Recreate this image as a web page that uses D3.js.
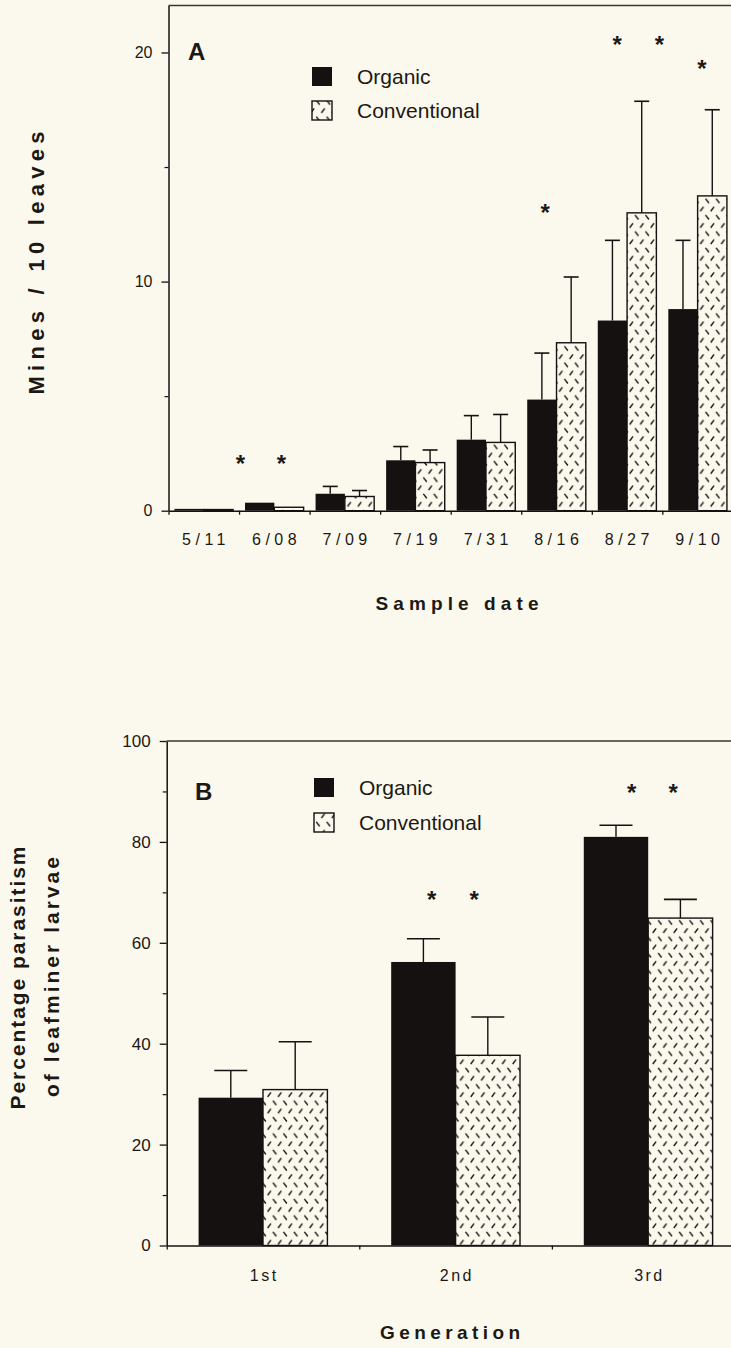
<!DOCTYPE html>
<html>
<head>
<meta charset="utf-8">
<script src="https://cdn.jsdelivr.net/npm/d3@7"></script>
<style>
  html, body { margin: 0; padding: 0; background: #fbf9ee; }
  svg { display: block; }
  text { font-family: "Liberation Sans", Arial, Helvetica, sans-serif; fill: #1b1815; }
</style>
</head>
<body>
<svg id="chart" width="731" height="1348"></svg>
<script>
// ---------- Data: Panel A (mines per 10 leaves) ----------
const datesA = ["5/11", "6/08", "7/09", "7/19", "7/31", "8/16", "8/27", "9/10"];
const organicA = [0.08, 0.35, 0.74, 2.2, 3.1, 4.85, 8.3, 8.8];
const organicErrA = [0, 0, 0.32, 0.6, 1.05, 2.03, 3.5, 3.0];
const conventionalA = [0.05, 0.15, 0.62, 2.1, 2.98, 7.33, 13.0, 13.74];
const conventionalErrA = [0, 0, 0.26, 0.55, 1.22, 2.87, 4.87, 3.76];
const yTicksA = [0, 10, 20];
const yMinorA = [5, 15];
// significance asterisks: position in category-index units, height in data units
const starPosA = [0.52, 1.10, 4.84, 5.86, 6.46, 7.06];
const starYA = [2.26, 2.26, 13.2, 20.56, 20.56, 19.5];

// ---------- Data: Panel B (% parasitism) ----------
const generationsB = ["1st", "2nd", "3rd"];
const organicB = [29.3, 56.2, 81.0];
const organicErrB = [5.4, 4.6, 2.3];
const conventionalB = [30.9, 37.7, 64.9];
const conventionalErrB = [9.5, 7.6, 3.7];
const yTicksB = [0, 20, 40, 60, 80, 100];
const yMinorB = [10, 30, 50, 70, 90];
const starPosB = [0.876, 1.097, 1.914, 2.13];
const starYB = [69.5, 69.5, 90.7, 90.7];

const seriesNames = ["Organic", "Conventional"];

const INK = "#141110";
const BG = "#fbf9ee";

const svg = d3.select("#chart");
svg.append("rect").attr("width", 731).attr("height", 1348).attr("fill", BG);

// hatch pattern for conventional bars
const defs = svg.append("defs");
const pat = defs.append("pattern")
  .attr("id", "hatch").attr("patternUnits", "userSpaceOnUse")
  .attr("width", 10.5).attr("height", 16.4);
pat.append("rect").attr("width", 10.5).attr("height", 16.4).attr("fill", BG);
pat.append("path").attr("d", "M1.2,1.8 L4.6,6.3").attr("stroke", INK).attr("stroke-width", 1.4);
pat.append("path").attr("d", "M6.4,14.5 L9.7,10.0").attr("stroke", INK).attr("stroke-width", 1.4);

function panel(opts) {
  const g = svg.append("g");
  const n = opts.cats.length;
  const x = d3.scaleBand().domain(opts.cats).range([opts.x0, opts.x1]).padding(0);
  const xi = d3.scaleLinear().domain([0, n]).range([opts.x0, opts.x1]);
  const xs = d3.scaleBand().domain(seriesNames).range([0, x.bandwidth()])
    .paddingInner(0).paddingOuter(opts.subPad);
  const y = d3.scaleLinear().domain([0, opts.yMax]).range([opts.yBottom, opts.yTop]);

  // top frame line
  g.append("line")
    .attr("x1", opts.x0).attr("x2", opts.x1)
    .attr("y1", y(opts.yMax)).attr("y2", y(opts.yMax))
    .attr("stroke", "#3a3632").attr("stroke-width", 1.3);

  // bars
  const rows = opts.cats.map((c, i) => ({
    cat: c,
    vals: [
      { s: "Organic", v: opts.org[i], e: opts.orgErr[i] },
      { s: "Conventional", v: opts.con[i], e: opts.conErr[i] }
    ]
  }));
  const grp = g.selectAll("g.cat").data(rows).join("g")
    .attr("transform", d => `translate(${x(d.cat)},0)`);
  grp.selectAll("g.err").data(d => d.vals.filter(v => v.e > 0)).join("g").each(function (d) {
    const cx = xs(d.s) + xs.bandwidth() / 2;
    const sel = d3.select(this);
    sel.append("line").attr("x1", cx).attr("x2", cx)
      .attr("y1", y(d.v)).attr("y2", y(d.v + d.e))
      .attr("stroke", INK).attr("stroke-width", 1.4);
    sel.append("line").attr("x1", cx - opts.cap / 2).attr("x2", cx + opts.cap / 2)
      .attr("y1", y(d.v + d.e)).attr("y2", y(d.v + d.e))
      .attr("stroke", INK).attr("stroke-width", 1.6);
  });
  grp.selectAll("rect.bar").data(d => d.vals).join("rect")
    .attr("x", d => xs(d.s))
    .attr("width", xs.bandwidth())
    .attr("y", d => y(d.v))
    .attr("height", d => y(0) - y(d.v))
    .attr("fill", d => d.s === "Organic" ? INK : "url(#hatch)")
    .attr("stroke", d => d.s === "Organic" ? "none" : INK)
    .attr("stroke-width", 1.4);

  // y axis
  const ya = g.append("g").attr("transform", `translate(${opts.x0},0)`)
    .call(d3.axisLeft(y).tickValues(opts.yTicks).tickSize(7).tickPadding(9).tickSizeOuter(0));
  ya.select(".domain").attr("stroke", INK).attr("stroke-width", 1.5);
  ya.selectAll(".tick line").attr("stroke", INK).attr("stroke-width", 1.3);
  ya.selectAll(".tick text").attr("font-size", opts.tickFont).attr("fill", "#1b1815")
    .attr("font-family", '"Liberation Sans", Arial, sans-serif');
  const ym = g.append("g").attr("transform", `translate(${opts.x0},0)`)
    .call(d3.axisLeft(y).tickValues(opts.yMinor).tickSize(4).tickFormat("").tickSizeOuter(0));
  ym.select(".domain").remove();
  ym.selectAll(".tick line").attr("stroke", INK).attr("stroke-width", 1.2);

  // x axis: boundary ticks
  const xa = g.append("g").attr("transform", `translate(0,${opts.yBottom})`)
    .call(d3.axisBottom(xi).tickValues(d3.range(0, n + 1)).tickSize(4).tickFormat("").tickSizeOuter(0));
  xa.select(".domain").attr("stroke", INK).attr("stroke-width", 1.6);
  xa.selectAll(".tick line").attr("stroke", INK).attr("stroke-width", 1.3);
  // x labels at band centres
  const xl = g.append("g").attr("transform", `translate(0,${opts.yBottom})`)
    .call(d3.axisBottom(x).tickSize(0).tickPadding(opts.xLabelPad));
  xl.select(".domain").remove();
  xl.selectAll(".tick text").attr("font-size", opts.xFont)
    .attr("font-family", '"Liberation Sans", Arial, sans-serif')
    .attr("fill", "#1b1815")
    .style("letter-spacing", opts.xLetter + "px")
    .attr("dx", (opts.xLetter / 2) + "px");

  // asterisks
  g.selectAll("text.star").data(opts.starPos.map((p, i) => ({ p, yv: opts.starY[i] })))
    .join("text").attr("class", "star")
    .attr("x", d => xi(d.p + 0.5))
    .attr("y", d => y(d.yv) + 13)
    .attr("text-anchor", "middle")
    .attr("font-size", 24)
    .attr("font-weight", "bold")
    .text("*");

  // panel letter
  g.append("text").attr("x", opts.letterX).attr("y", opts.letterY)
    .attr("font-size", 24).attr("font-weight", "bold").text(opts.letter);

  // legend
  const lg = g.append("g");
  seriesNames.forEach((s, i) => {
    const yy = opts.legY + i * opts.legStep;
    lg.append("rect").attr("x", opts.legX).attr("y", yy - 17).attr("width", 20).attr("height", 19)
      .attr("fill", s === "Organic" ? INK : "url(#hatch)")
      .attr("stroke", INK).attr("stroke-width", s === "Organic" ? 0 : 1.4);
    lg.append("text").attr("x", opts.legX + 45).attr("y", yy)
      .attr("font-size", 21).text(s);
  });
  return { x, y };
}

panel({
  cats: datesA, org: organicA, orgErr: organicErrA, con: conventionalA, conErr: conventionalErrA,
  x0: 168.5, x1: 732.9, yBottom: 510.7, yTop: 5.5, yMax: 22.05,
  yTicks: yTicksA, yMinor: yMinorA, subPad: 0.204, cap: 15,
  tickFont: 16, xFont: 16, xLetter: 4.5, xLabelPad: 23,
  starPos: starPosA, starY: starYA,
  letter: "A", letterX: 188, letterY: 60,
  legX: 312, legY: 84, legStep: 34
});

panel({
  cats: generationsB, org: organicB, orgErr: organicErrB, con: conventionalB, conErr: conventionalErrB,
  x0: 166.7, x1: 744.5, yBottom: 1245.5, yTop: 741, yMax: 100,
  yTicks: yTicksB, yMinor: yMinorB, subPad: 0.495, cap: 33,
  tickFont: 17, xFont: 16, xLetter: 2.5, xLabelPad: 24,
  starPos: starPosB, starY: starYB,
  letter: "B", letterX: 195, letterY: 800,
  legX: 314, legY: 795, legStep: 35
});

// axis titles
svg.append("text").attr("x", 457).attr("y", 610).attr("text-anchor", "middle")
  .attr("font-size", 19).attr("font-weight", "bold")
  .attr("textLength", 163).attr("lengthAdjust", "spacing")
  .text("Sample date");
svg.append("text").attr("x", 450).attr("y", 1339).attr("text-anchor", "middle")
  .attr("font-size", 19).attr("font-weight", "bold")
  .attr("textLength", 140).attr("lengthAdjust", "spacing")
  .text("Generation");

svg.append("text").attr("transform", "translate(44,263) rotate(-90)")
  .attr("text-anchor", "middle").attr("font-size", 22).attr("font-weight", "bold")
  .attr("textLength", 263).attr("lengthAdjust", "spacing")
  .text("Mines / 10 leaves");
svg.append("text").attr("transform", "translate(25,978) rotate(-90)")
  .attr("text-anchor", "middle").attr("font-size", 21).attr("font-weight", "bold")
  .attr("textLength", 263).attr("lengthAdjust", "spacing")
  .text("Percentage parasitism");
svg.append("text").attr("transform", "translate(59,977) rotate(-90)")
  .attr("text-anchor", "middle").attr("font-size", 21).attr("font-weight", "bold")
  .attr("textLength", 240).attr("lengthAdjust", "spacing")
  .text("of leafminer larvae");
</script>
</body>
</html>
